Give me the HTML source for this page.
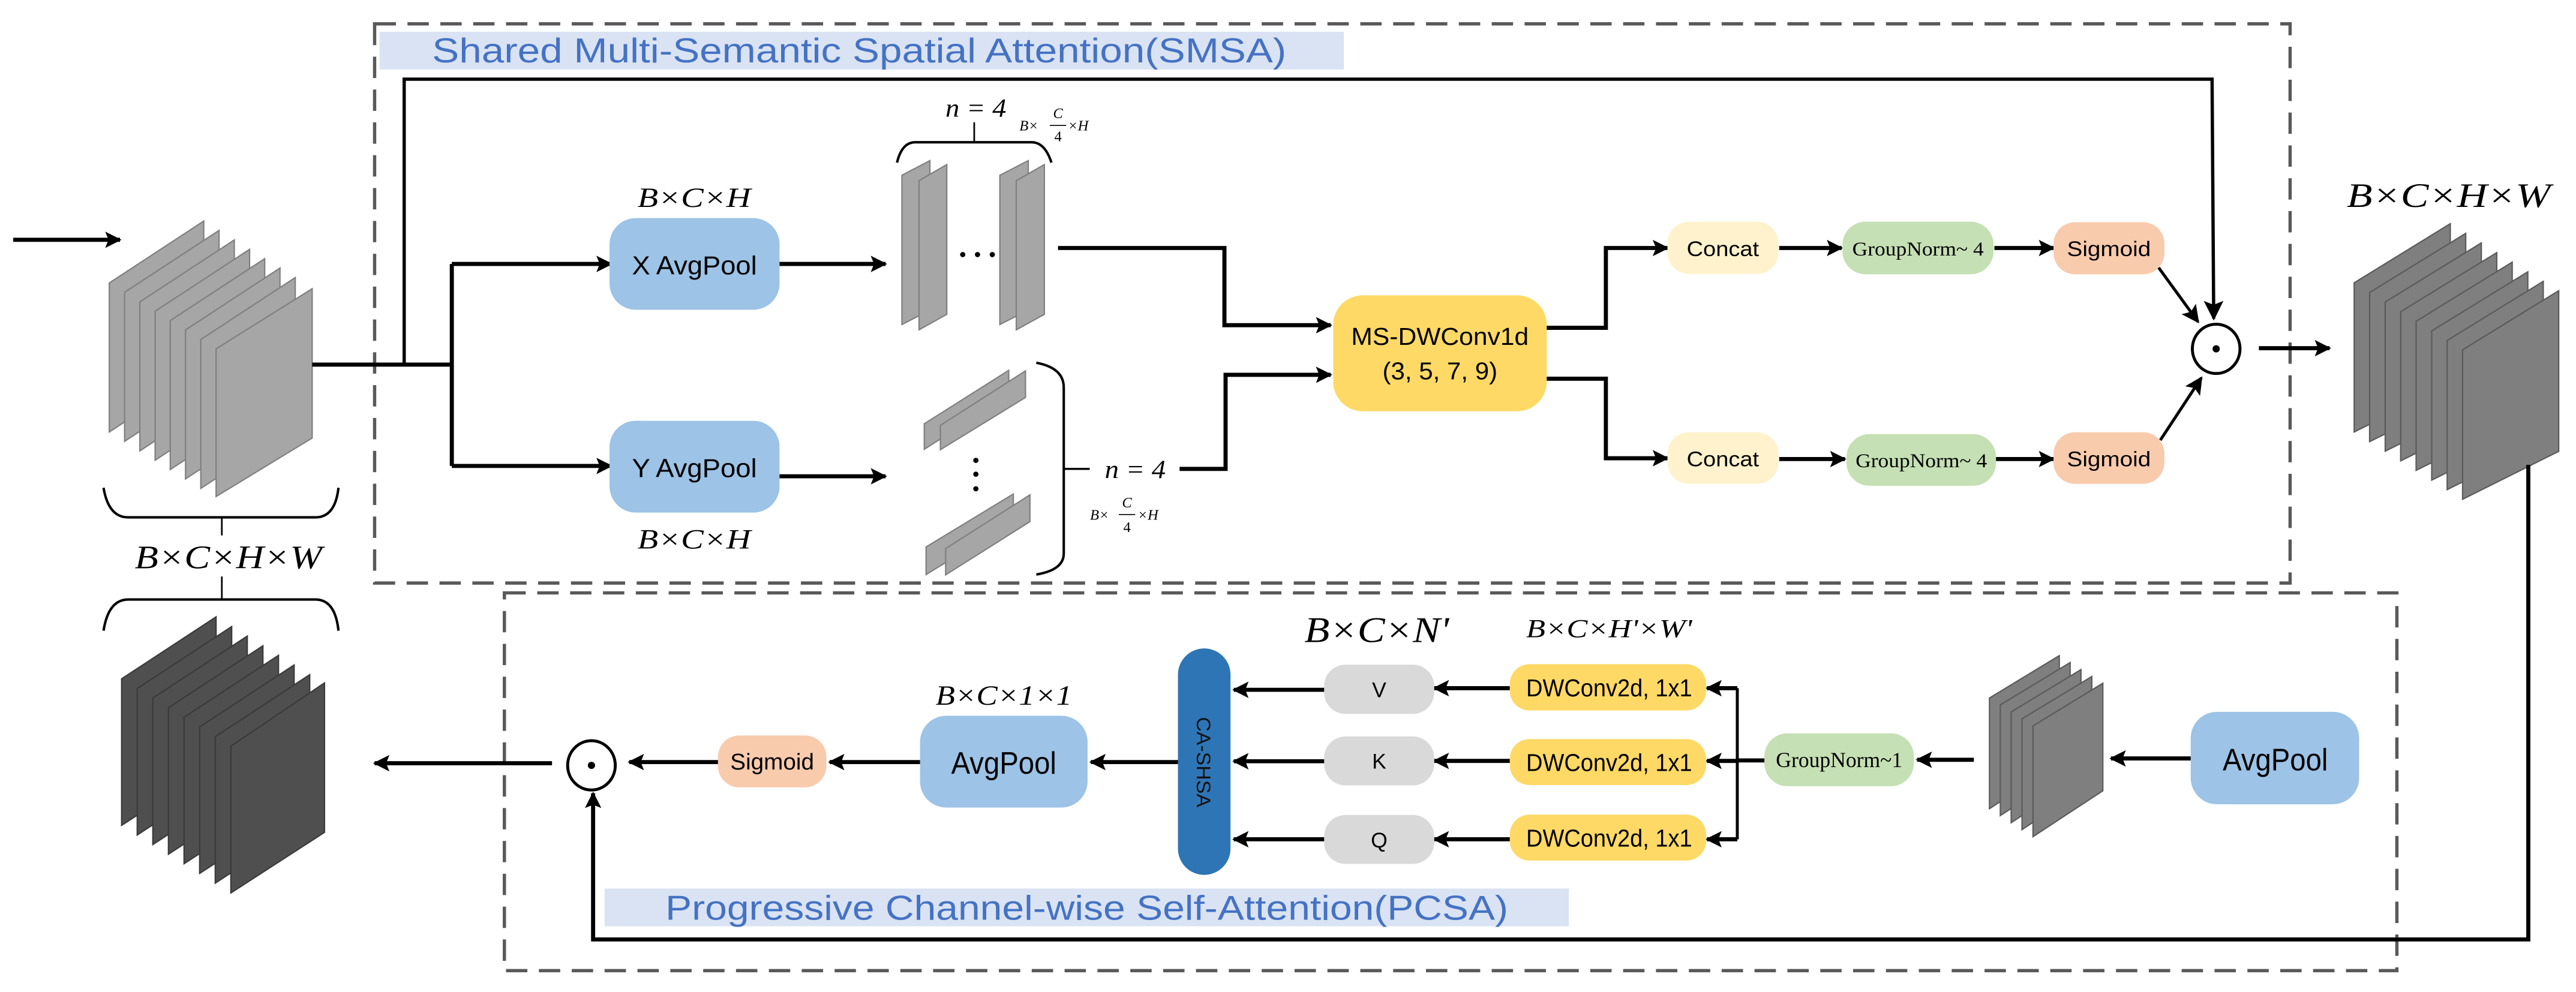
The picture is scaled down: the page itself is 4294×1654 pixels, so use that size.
<!DOCTYPE html>
<html><head><meta charset="utf-8"><style>
html,body{margin:0;padding:0;background:#fff;}
svg{display:block;}
.sans{font-family:"Liberation Sans",sans-serif;}
.serif{font-family:"Liberation Serif",serif;}
.math{font-family:"Liberation Serif",serif;font-style:italic;}
</style></head><body>
<svg width="4294" height="1654" viewBox="0 0 1568 604" xmlns="http://www.w3.org/2000/svg">
<defs>
<marker id="a" viewBox="0 0 10 10" refX="9" refY="5" markerWidth="4" markerHeight="4" orient="auto" markerUnits="strokeWidth">
<path d="M0,0 L10,5 L0,10 L2,5 Z" fill="#000"/></marker>
<marker id="b" viewBox="0 0 10 10" refX="9" refY="5" markerWidth="6" markerHeight="6" orient="auto" markerUnits="strokeWidth">
<path d="M0,0 L10,5 L0,10 L2,5 Z" fill="#000"/></marker>
</defs>

<!-- dashed boxes -->
<rect x="228" y="14.5" width="1166" height="340.5" fill="none" stroke="#595959" stroke-width="2" stroke-dasharray="13 7"/>
<rect x="307" y="361" width="1152" height="230" fill="none" stroke="#595959" stroke-width="2" stroke-dasharray="13 7"/>

<!-- titles -->
<rect x="231" y="19.3" width="587" height="23" fill="#dae3f3"/>
<text x="263" y="38" class="sans" font-size="21" fill="#4472c4" textLength="520" lengthAdjust="spacingAndGlyphs">Shared Multi-Semantic Spatial Attention(SMSA)</text>
<rect x="368" y="541" width="587" height="23" fill="#dae3f3"/>
<text x="405" y="560" class="sans" font-size="21" fill="#4472c4" textLength="513" lengthAdjust="spacingAndGlyphs">Progressive Channel-wise Self-Attention(PCSA)</text>

<!-- input arrow -->
<line x1="8" y1="146" x2="73" y2="146" stroke="#000" stroke-width="2.5" marker-end="url(#a)"/>

<!-- input stack -->
<g fill="#a6a6a6" stroke="#7f7f7f" stroke-width="0.8">
<polygon points="66.5,172.3 124,134.6 124,225.4 66.5,263"/>
<polygon points="75.8,178 133.3,140.3 133.3,231.1 75.8,268.7"/>
<polygon points="85.1,183.8 142.6,146.1 142.6,236.9 85.1,274.5"/>
<polygon points="94.4,189.5 151.9,151.8 151.9,242.6 94.4,280.2"/>
<polygon points="103.6,195.2 161.1,157.5 161.1,248.3 103.6,285.9"/>
<polygon points="112.9,200.9 170.4,163.2 170.4,254 112.9,291.6"/>
<polygon points="122.2,206.7 179.7,169 179.7,259.8 122.2,297.4"/>
<polygon points="131.5,212.4 190,175.8 190,266.7 131.5,302.3"/>
</g>

<!-- input brace & label -->
<path d="M63,297 Q66,315 78,315 L192,315 Q204,315 206,297" fill="none" stroke="#000" stroke-width="1.5"/>
<line x1="135" y1="315" x2="135" y2="326" stroke="#000" stroke-width="1"/>
<text x="139" y="346" class="math" font-size="20" text-anchor="middle" textLength="114" lengthAdjust="spacingAndGlyphs">B×C×H×W</text>
<line x1="135" y1="351" x2="135" y2="365" stroke="#000" stroke-width="1"/>
<path d="M63,384 Q66,365 78,365 L192,365 Q204,365 206,384" fill="none" stroke="#000" stroke-width="1.5"/>

<!-- output stack (dark) -->
<g fill="#4f4f4f" stroke="#3a3a3a" stroke-width="0.8">
<polygon points="74,413.3 131.5,375.6 131.5,465.2 74,502.5"/>
<polygon points="83.5,419.2 141,381.5 141,471 83.5,508.4"/>
<polygon points="93,425 150.5,387.3 150.5,476.9 93,514.2"/>
<polygon points="102.5,430.9 160,393.2 160,482.7 102.5,520.1"/>
<polygon points="112,436.7 169.5,399 169.5,488.6 112,525.9"/>
<polygon points="121.5,442.6 179,404.9 179,494.4 121.5,531.8"/>
<polygon points="131,448.5 188.5,410.8 188.5,500.3 131,537.7"/>
<polygon points="140.5,454.3 197.5,415.8 197.5,506.8 140.5,543.7"/>
</g>

<!-- top skip line -->
<polyline points="190,222 275,222" fill="none" stroke="#000" stroke-width="2.5"/>
<polyline points="246,222 246,48.2 1346.5,48.2 1347.5,194" fill="none" stroke="#000" stroke-width="2" marker-end="url(#b)"/>

<!-- branches to X/Y avgpool -->
<polyline points="275,160.7 275,283.7" fill="none" stroke="#000" stroke-width="2.5"/>
<line x1="275" y1="160.7" x2="372" y2="160.7" stroke="#000" stroke-width="2.5" marker-end="url(#a)"/>
<line x1="275" y1="283.7" x2="372" y2="283.7" stroke="#000" stroke-width="2.5" marker-end="url(#a)"/>

<rect x="371" y="132.8" width="103.5" height="55.8" rx="16" fill="#9dc3e6"/>
<text x="422.7" y="167" class="sans" font-size="16" text-anchor="middle" textLength="76" lengthAdjust="spacingAndGlyphs">X AvgPool</text>
<rect x="371" y="256.2" width="103.5" height="55.9" rx="16" fill="#9dc3e6"/>
<text x="422.7" y="290.5" class="sans" font-size="16" text-anchor="middle" textLength="76" lengthAdjust="spacingAndGlyphs">Y AvgPool</text>
<text x="422.5" y="126" class="math" font-size="17" text-anchor="middle" textLength="69" lengthAdjust="spacingAndGlyphs">B×C×H</text>
<text x="422.5" y="334" class="math" font-size="17" text-anchor="middle" textLength="69" lengthAdjust="spacingAndGlyphs">B×C×H</text>

<line x1="474.5" y1="160.7" x2="539" y2="160.7" stroke="#000" stroke-width="2.5" marker-end="url(#a)"/>
<line x1="474.5" y1="290" x2="539" y2="290" stroke="#000" stroke-width="2.5" marker-end="url(#a)"/>

<!-- vertical strips -->
<g fill="#a6a6a6" stroke="#7f7f7f" stroke-width="0.8">
<polygon points="549,106.7 566,97.8 566,188.8 549,197.6"/>
<polygon points="559.4,110 576.3,100.2 576.3,191.4 559.4,200.8"/>
<polygon points="608.6,106.7 625.9,97.8 625.9,188.8 608.6,197.6"/>
<polygon points="618.6,110 635.7,100.2 635.7,191.4 618.6,200.8"/>
</g>
<circle cx="586" cy="155" r="1.6"/><circle cx="595" cy="155" r="1.6"/><circle cx="604" cy="155" r="1.6"/>
<path d="M546,99 Q549,86.6 557,86.6 L628,86.6 Q636,86.6 640,99" fill="none" stroke="#000" stroke-width="1.5"/>
<line x1="593" y1="86.6" x2="593" y2="74.5" stroke="#000" stroke-width="1"/>
<text x="594" y="71" class="math" font-size="16" text-anchor="middle" textLength="37" lengthAdjust="spacingAndGlyphs">n = 4</text>
<g class="math" font-size="9">
<text x="620.5" y="79.5">B×</text>
<text x="644" y="72" text-anchor="middle">C</text>
<text x="644" y="86" text-anchor="middle" font-style="normal">4</text>
<text x="650" y="79.5">×H</text>
</g>
<line x1="639" y1="76.4" x2="649" y2="76.4" stroke="#000" stroke-width="0.6"/>

<!-- horizontal strips -->
<g fill="#a6a6a6" stroke="#7f7f7f" stroke-width="0.8">
<polygon points="562.6,258 614,225.5 614,240.8 562.6,273.5"/>
<polygon points="572.4,259 624.2,225.8 624.2,242 572.4,273.8"/>
<polygon points="563.7,333 616.8,300.8 616.8,317.2 563.7,349.8"/>
<polygon points="575.6,334 626.9,301.3 626.9,317.6 575.6,350"/>
</g>
<circle cx="594" cy="280.3" r="1.6"/><circle cx="594" cy="288.7" r="1.6"/><circle cx="594" cy="297.6" r="1.6"/>
<path d="M630.8,220.9 Q647.5,224 647.5,236 L647.5,337 Q647.5,347 630.8,349.8" fill="none" stroke="#000" stroke-width="1.5"/>
<line x1="647.5" y1="285.5" x2="663.3" y2="285.5" stroke="#000" stroke-width="1.2"/>
<text x="691" y="291" class="math" font-size="16" text-anchor="middle" textLength="37" lengthAdjust="spacingAndGlyphs">n = 4</text>
<g class="math" font-size="9">
<text x="663.5" y="316.5">B×</text>
<text x="686" y="309" text-anchor="middle">C</text>
<text x="686" y="324" text-anchor="middle" font-style="normal">4</text>
<text x="692.5" y="316.5">×H</text>
</g>
<line x1="681" y1="313.3" x2="691" y2="313.3" stroke="#000" stroke-width="0.6"/>

<!-- lines into MS-DWConv1d -->
<polyline points="644,151 745.3,151 745.3,198 810,198" fill="none" stroke="#000" stroke-width="2.5" marker-end="url(#a)"/>
<polyline points="718,285.5 746,285.5 746,228.2 810,228.2" fill="none" stroke="#000" stroke-width="2.5" marker-end="url(#a)"/>

<rect x="811.5" y="179.8" width="130" height="70.6" rx="18" fill="#ffd966"/>
<text x="876.5" y="210" class="sans" font-size="15" text-anchor="middle" textLength="108" lengthAdjust="spacingAndGlyphs">MS-DWConv1d</text>
<text x="876.5" y="231" class="sans" font-size="15" text-anchor="middle" textLength="70" lengthAdjust="spacingAndGlyphs">(3, 5, 7, 9)</text>

<polyline points="941.5,199.6 977.5,199.6 977.5,151 1015,151" fill="none" stroke="#000" stroke-width="2.5" marker-end="url(#a)"/>
<polyline points="941.5,230.6 977.5,230.6 977.5,279 1015,279" fill="none" stroke="#000" stroke-width="2.5" marker-end="url(#a)"/>

<!-- top row -->
<rect x="1015" y="135" width="67.5" height="31.8" rx="13" fill="#fff2cc"/>
<text x="1048.7" y="156" class="sans" font-size="13" text-anchor="middle" textLength="44" lengthAdjust="spacingAndGlyphs">Concat</text>
<line x1="1083" y1="151" x2="1121" y2="151" stroke="#000" stroke-width="2.5" marker-end="url(#a)"/>
<rect x="1121.5" y="135" width="92" height="32" rx="14" fill="#c5e0b4"/>
<text x="1167.5" y="155.5" class="serif" font-size="12" text-anchor="middle" textLength="80" lengthAdjust="spacingAndGlyphs">GroupNorm~ 4</text>
<line x1="1214" y1="151" x2="1250" y2="151" stroke="#000" stroke-width="2.5" marker-end="url(#a)"/>
<rect x="1250" y="135.3" width="67.5" height="31.7" rx="13" fill="#f8cbad"/>
<text x="1283.7" y="156" class="sans" font-size="13" text-anchor="middle" textLength="51" lengthAdjust="spacingAndGlyphs">Sigmoid</text>

<!-- bottom row -->
<rect x="1015" y="263.2" width="67.5" height="31.4" rx="13" fill="#fff2cc"/>
<text x="1048.7" y="284" class="sans" font-size="13" text-anchor="middle" textLength="44" lengthAdjust="spacingAndGlyphs">Concat</text>
<line x1="1083" y1="279.5" x2="1123" y2="279.5" stroke="#000" stroke-width="2.5" marker-end="url(#a)"/>
<rect x="1124" y="264.3" width="91" height="31.5" rx="14" fill="#c5e0b4"/>
<text x="1169.5" y="284.5" class="serif" font-size="12" text-anchor="middle" textLength="80" lengthAdjust="spacingAndGlyphs">GroupNorm~ 4</text>
<line x1="1215" y1="279.5" x2="1250" y2="279.5" stroke="#000" stroke-width="2.5" marker-end="url(#a)"/>
<rect x="1250" y="263.2" width="67.5" height="31.4" rx="13" fill="#f8cbad"/>
<text x="1283.7" y="284" class="sans" font-size="13" text-anchor="middle" textLength="51" lengthAdjust="spacingAndGlyphs">Sigmoid</text>

<line x1="1314" y1="163" x2="1338" y2="196" stroke="#000" stroke-width="1.8" marker-end="url(#b)"/>
<line x1="1315" y1="268" x2="1340" y2="230" stroke="#000" stroke-width="1.8" marker-end="url(#b)"/>

<!-- odot top -->
<ellipse cx="1349" cy="212.4" rx="14.5" ry="15" fill="#fff" stroke="#000" stroke-width="1.8"/>
<circle cx="1349" cy="212.4" r="2.2"/>
<line x1="1375" y1="212" x2="1418" y2="212" stroke="#000" stroke-width="2.5" marker-end="url(#a)"/>

<!-- right output stack -->
<g fill="#7f7f7f" stroke="#5a5a5a" stroke-width="0.8">
<polygon points="1433,172.2 1491.5,136.2 1491.5,234 1433,263"/>
<polygon points="1442.4,178.1 1500.9,142.1 1500.9,239.9 1442.4,268.9"/>
<polygon points="1451.9,183.9 1510.4,147.9 1510.4,245.7 1451.9,274.7"/>
<polygon points="1461.3,189.8 1519.8,153.8 1519.8,251.6 1461.3,280.6"/>
<polygon points="1470.7,195.6 1529.2,159.6 1529.2,257.4 1470.7,286.4"/>
<polygon points="1480.2,201.5 1538.7,165.5 1538.7,263.3 1480.2,292.3"/>
<polygon points="1489.6,207.3 1548.1,171.3 1548.1,269.1 1489.6,298.1"/>
<polygon points="1499,213 1557.5,177 1557.5,274.8 1499,304"/>
</g>
<text x="1490.5" y="126" class="math" font-size="21" text-anchor="middle" textLength="124" lengthAdjust="spacingAndGlyphs">B×C×H×W</text>

<!-- long return line -->
<polyline points="1539,283 1539,572 361,572 361,483" fill="none" stroke="#000" stroke-width="2.5" marker-end="url(#a)"/>

<!-- PCSA right avgpool -->
<rect x="1333.5" y="433.4" width="102.5" height="56.3" rx="16" fill="#9dc3e6"/>
<text x="1385" y="469" class="sans" font-size="19" text-anchor="middle" textLength="64" lengthAdjust="spacingAndGlyphs">AvgPool</text>
<line x1="1333.5" y1="461.8" x2="1285" y2="461.8" stroke="#000" stroke-width="2.5" marker-end="url(#a)"/>

<!-- small stack -->
<g fill="#7f7f7f" stroke="#5a5a5a" stroke-width="0.8">
<polygon points="1211,425 1253.5,399.2 1253.5,464.5 1211,492.4"/>
<polygon points="1217.6,429.2 1260.1,403.4 1260.1,468.7 1217.6,496.6"/>
<polygon points="1224.2,433.5 1266.7,407.7 1266.7,473 1224.2,500.9"/>
<polygon points="1230.8,437.7 1273.3,411.9 1273.3,477.2 1230.8,505.1"/>
<polygon points="1237.5,442 1280,416 1280,481.5 1237.5,509.4"/>
</g>
<line x1="1201.5" y1="462.6" x2="1167" y2="462.6" stroke="#000" stroke-width="2.5" marker-end="url(#a)"/>

<rect x="1074" y="446.5" width="91" height="32.2" rx="14" fill="#c5e0b4"/>
<text x="1119.5" y="467" class="serif" font-size="13" text-anchor="middle" textLength="77" lengthAdjust="spacingAndGlyphs">GroupNorm~1</text>

<line x1="1074" y1="463" x2="1057.5" y2="463" stroke="#000" stroke-width="2.5"/>
<line x1="1057.5" y1="419" x2="1057.5" y2="511" stroke="#000" stroke-width="1.8"/>
<line x1="1057.5" y1="419" x2="1039" y2="419" stroke="#000" stroke-width="2.5" marker-end="url(#a)"/>
<line x1="1057.5" y1="463.3" x2="1039" y2="463.3" stroke="#000" stroke-width="2.5" marker-end="url(#a)"/>
<line x1="1057.5" y1="511" x2="1039" y2="511" stroke="#000" stroke-width="2.5" marker-end="url(#a)"/>

<g class="sans" font-size="15" text-anchor="middle">
<rect x="919" y="404.4" width="119.5" height="28.2" rx="12" fill="#ffd966"/>
<text x="979.5" y="424" textLength="101" lengthAdjust="spacingAndGlyphs">DWConv2d, 1x1</text>
<rect x="919" y="450" width="119.5" height="28" rx="12" fill="#ffd966"/>
<text x="979.5" y="469.5" textLength="101" lengthAdjust="spacingAndGlyphs">DWConv2d, 1x1</text>
<rect x="919" y="496" width="119.5" height="28" rx="12" fill="#ffd966"/>
<text x="979.5" y="515.5" textLength="101" lengthAdjust="spacingAndGlyphs">DWConv2d, 1x1</text>
</g>
<line x1="919" y1="419" x2="873" y2="419" stroke="#000" stroke-width="2.5" marker-end="url(#a)"/>
<line x1="919" y1="463.3" x2="873" y2="463.3" stroke="#000" stroke-width="2.5" marker-end="url(#a)"/>
<line x1="919" y1="511" x2="873" y2="511" stroke="#000" stroke-width="2.5" marker-end="url(#a)"/>

<g class="sans" font-size="13" text-anchor="middle">
<rect x="806" y="404.7" width="67" height="30" rx="13" fill="#d9d9d9"/>
<text x="839.5" y="424.5">V</text>
<rect x="806" y="448.4" width="67" height="29.8" rx="13" fill="#d9d9d9"/>
<text x="839.5" y="468">K</text>
<rect x="806" y="496.2" width="67" height="29.8" rx="13" fill="#d9d9d9"/>
<text x="839.5" y="516">Q</text>
</g>
<line x1="806" y1="420" x2="751" y2="420" stroke="#000" stroke-width="2.5" marker-end="url(#a)"/>
<line x1="806" y1="463.5" x2="751" y2="463.5" stroke="#000" stroke-width="2.5" marker-end="url(#a)"/>
<line x1="806" y1="511" x2="751" y2="511" stroke="#000" stroke-width="2.5" marker-end="url(#a)"/>

<text x="838" y="391" class="math" font-size="22" text-anchor="middle" textLength="88" lengthAdjust="spacingAndGlyphs">B×C×N'</text>
<text x="979.5" y="388" class="math" font-size="16" text-anchor="middle" textLength="101" lengthAdjust="spacingAndGlyphs">B×C×H'×W'</text>

<!-- CA-SHSA -->
<rect x="717" y="394.8" width="32" height="137.9" rx="16" fill="#2e75b6"/>
<text transform="translate(728.5,464) rotate(90)" class="sans" font-size="12" text-anchor="middle" fill="#111" textLength="55" lengthAdjust="spacingAndGlyphs">CA-SHSA</text>
<line x1="717" y1="464" x2="664" y2="464" stroke="#000" stroke-width="2.5" marker-end="url(#a)"/>

<rect x="560" y="435.8" width="102" height="55.9" rx="16" fill="#9dc3e6"/>
<text x="611" y="471" class="sans" font-size="19" text-anchor="middle" textLength="64" lengthAdjust="spacingAndGlyphs">AvgPool</text>
<text x="611" y="429" class="math" font-size="17" text-anchor="middle" textLength="83" lengthAdjust="spacingAndGlyphs">B×C×1×1</text>
<line x1="560" y1="464" x2="505" y2="464" stroke="#000" stroke-width="2.5" marker-end="url(#a)"/>

<rect x="437" y="447.8" width="66" height="31.6" rx="13" fill="#f8cbad"/>
<text x="470" y="468.5" class="sans" font-size="14" text-anchor="middle" textLength="51" lengthAdjust="spacingAndGlyphs">Sigmoid</text>
<line x1="437" y1="464" x2="383" y2="464" stroke="#000" stroke-width="2.5" marker-end="url(#a)"/>

<ellipse cx="360" cy="466" rx="14.5" ry="15" fill="#fff" stroke="#000" stroke-width="1.8"/>
<circle cx="360" cy="466" r="2.2"/>
<line x1="336" y1="464.7" x2="228" y2="464.7" stroke="#000" stroke-width="2.5" marker-end="url(#a)"/>
</svg>
</body></html>
